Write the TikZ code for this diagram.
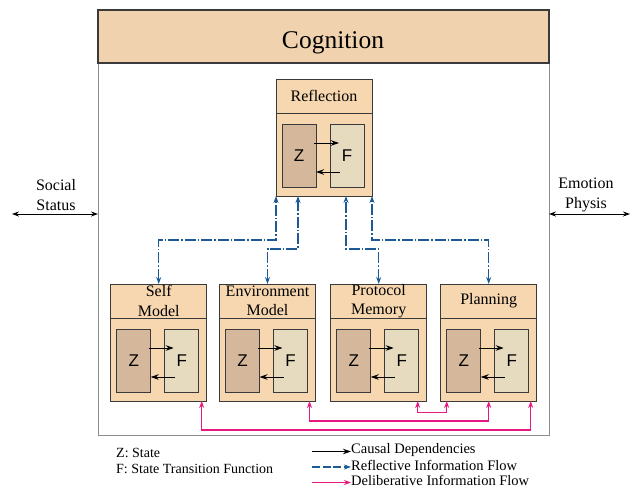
\documentclass[tikz,border=0pt]{standalone}
\usepackage{fontspec}
\setmainfont{Liberation Serif}
\newfontfamily\zffont{Liberation Sans}
\usetikzlibrary{arrows.meta,calc}
\definecolor{cogfill}{HTML}{F0D2AE}
\definecolor{modfill}{HTML}{F7D7B0}
\definecolor{zfill}{HTML}{D5B79B}
\definecolor{ffill}{HTML}{E6DBBF}
\definecolor{bordc}{HTML}{3A3A3A}
\definecolor{outerc}{HTML}{8C8C8C}
\definecolor{reflc}{HTML}{1B5A94}
\definecolor{delibc}{HTML}{E5197F}
\tikzset{
  mybox/.style={draw=bordc, line width=0.9pt, inner sep=0pt, outer sep=0pt, anchor=north west},
  modouter/.style={mybox, fill=modfill, minimum width=96pt, minimum height=117pt},
  modhead/.style={mybox, minimum width=96pt, minimum height=34pt, align=center, font=\fontsize{16}{19.5}\selectfont},
  zbox/.style={mybox, fill=zfill, minimum width=34pt, minimum height=63pt, font=\zffont\fontsize{17}{17}\selectfont},
  fstatebox/.style={mybox, fill=ffill, minimum width=34pt, minimum height=63pt, font=\zffont\fontsize{17}{17}\selectfont},
  causal/.style={-{Stealth[length=8pt,width=5.5pt]}, line width=1pt, black},
  reflflow/.style={{Stealth[length=7pt,width=5pt]}-{Stealth[length=7pt,width=5pt]}, line width=1.1pt, reflc, dash pattern=on 11pt off 2pt on 1.5pt off 2pt},
  reflleg/.style={-{Stealth[length=7pt,width=5pt]}, line width=1.1pt, reflc, dash pattern=on 8pt off 2.5pt},
  delib/.style={{Stealth[length=7pt,width=5pt]}-{Stealth[length=7pt,width=5pt]}, line width=1.1pt, delibc},
  delibleg/.style={-{Stealth[length=7pt,width=5pt]}, line width=1.1pt, delibc},
  lbl/.style={inner sep=0pt, font=\fontsize{16}{19.5}\selectfont, align=center},
  leg/.style={inner sep=0pt, anchor=west, font=\fontsize{14}{16}\selectfont},
  legr/.style={inner sep=0pt, anchor=west, font=\fontsize{14.5}{16}\selectfont},
}
\newcommand\modbox[4]{%
  \node[modouter] (#1) at (#2,#3) {};
  \node[modhead] (#1-h) at (#2,#3) {#4};
  \node[zbox] (#1-z) at (#2+6,#3+45) {Z};
  \node[fstatebox] (#1-f) at (#2+54,#3+45) {F};
  \draw[causal] ([xshift=-2pt,yshift=-19pt]#1-z.north east) -- ([xshift=9pt,yshift=-19pt]#1-f.north west);
  \draw[causal] ([xshift=10pt,yshift=-48pt]#1-f.north west) -- ([yshift=-48pt]#1-z.north east);
}
\begin{document}
\begin{tikzpicture}[x=1pt,y=-1pt]
\useasboundingbox (0,0) rectangle (640,488);
% outer frame
\node[draw=outerc, line width=0.8pt, inner sep=0pt, outer sep=0pt, anchor=north west, minimum width=451pt, minimum height=425pt] (outer) at (98,10) {};
\node[draw=bordc, fill=cogfill, line width=1.2pt, inner sep=0pt, outer sep=0pt, anchor=north west, minimum width=451pt, minimum height=53pt] (cog) at (98,10) {};
\node[inner sep=0pt, font=\fontsize{25.5}{25.5}\selectfont] (cogt) at (333,43) {Cognition};
% modules
\modbox{refl}{276}{79}{Reflection}
\modbox{self}{110.7}{284}{Self\\Model}
\modbox{env}{219.5}{284}{Environment\\Model}
\modbox{prot}{330.7}{284}{Protocol\\Memory}
\modbox{plan}{440.7}{284}{Planning}
% reflective flows
\coordinate (lvA) at (0,240);
\coordinate (lvB) at (0,249);
\coordinate (r1) at (refl.south west);
\coordinate (r2) at ([xshift=22pt]refl.south west);
\coordinate (r3) at ([xshift=-26pt]refl.south east);
\coordinate (r4) at (refl.south east);
\draw[reflflow] (self.north) -- (self.north |- lvA) -- (r1 |- lvA) -- (r1);
\draw[reflflow] (env.north) -- (env.north |- lvB) -- (r2 |- lvB) -- (r2);
\draw[reflflow] (prot.north) -- (prot.north |- lvB) -- (r3 |- lvB) -- (r3);
\draw[reflflow] (plan.north) -- (plan.north |- lvA) -- (r4 |- lvA) -- (r4);
% deliberative flows
\coordinate (p1) at ([xshift=-5pt]self.south east);
\coordinate (p2) at ([xshift=-6pt]env.south east);
\coordinate (p3) at ([xshift=-9pt]prot.south east);
\coordinate (q1) at ([xshift=-6pt]plan.south east);
\coordinate (q2) at (plan.south);
\coordinate (q3) at ([xshift=6pt]plan.south west);
\coordinate (lvC) at (0,430);
\coordinate (lvD) at (0,421);
\coordinate (lvE) at (0,412.5);
\draw[delib] (p1) -- (p1 |- lvC) -- (q1 |- lvC) -- (q1);
\draw[delib] (p2) -- (p2 |- lvD) -- (q2 |- lvD) -- (q2);
\draw[delib] (p3) -- (p3 |- lvE) -- (q3 |- lvE) -- (q3);
% side arrows
\node[lbl] (social) at (56,195) {Social\\Status};
\coordinate (ssL) at (12,214);
\draw[causal, {Stealth[length=7pt,width=5pt]}-{Stealth[length=7pt,width=5pt]}] (ssL) -- (ssL -| outer.west);
\node[lbl] (emot) at (586,195) {Emotion\\Physis};
\coordinate (epR) at (630,214);
\draw[causal, {Stealth[length=7pt,width=5pt]}-{Stealth[length=7pt,width=5pt]}] (epR -| outer.east) -- (epR);
% legend
\node[leg] (lz) at (116,453) {Z: State};
\node[leg] (lf) at (116,469) {F: State Transition Function};
\node[legr] (l1) at (351,450) {Causal Dependencies};
\node[legr] (l2) at (351,465.5) {Reflective Information Flow};
\node[legr] (l3) at (351,480.5) {Deliberative Information Flow};
\coordinate (a1) at (312,451.5);
\coordinate (a2) at (312,467);
\coordinate (a3) at (312,482.5);
\draw[causal] (a1) -- (a1 -| l1.west);
\draw[reflleg] (a2) -- (a2 -| l2.west);
\draw[delibleg] (a3) -- (a3 -| l3.west);
\end{tikzpicture}
\end{document}
